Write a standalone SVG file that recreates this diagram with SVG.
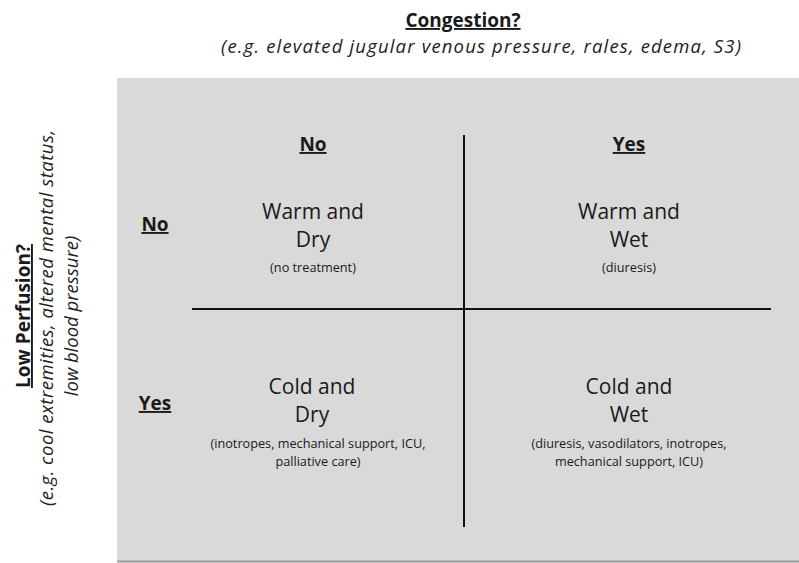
<svg xmlns="http://www.w3.org/2000/svg" width="799" height="563" viewBox="0 0 799 563">
<style>
text{font-family:"Open Sans","Noto Sans","Liberation Sans",sans-serif;fill:#1a1a1a;text-anchor:middle}
.hdr{font-weight:bold;font-size:19px;text-decoration:underline}
.it{font-style:italic;font-size:18.5px;fill:#222}
.big{font-size:21px}
.sm{font-size:12.7px}
.div{stroke:#111;stroke-width:2;fill:none}
</style>
<rect x="0" y="0" width="799" height="563" fill="#ffffff"/>
<g id="panel">
<rect x="117" y="78" width="690" height="484" fill="#d9d9d9"/>
<line x1="117" y1="561.5" x2="799" y2="561.5" stroke="#9a9a9a" stroke-width="2"/>
</g>
<g id="title-congestion">
<text class="hdr" x="463" y="27">Congestion?</text>
<text class="it" x="481" y="53" textLength="520" lengthAdjust="spacing">(e.g. elevated jugular venous pressure, rales, edema, S3)</text>
</g>
<g id="title-perfusion">
<text class="hdr" transform="translate(30,316) rotate(-90)">Low Perfusion?</text>
<text class="it" transform="translate(53,318) rotate(-90)" textLength="376" lengthAdjust="spacing">(e.g. cool extremities, altered mental status,</text>
<text class="it" transform="translate(78,316) rotate(-90)">low blood pressure)</text>
</g>
<g id="col-no"><text class="hdr" x="313" y="151">No</text></g>
<g id="col-yes"><text class="hdr" x="629" y="151">Yes</text></g>
<g id="row-no"><text class="hdr" x="155" y="231">No</text></g>
<g id="row-yes"><text class="hdr" x="155" y="410">Yes</text></g>
<g id="connectors">
<line class="div" x1="464" y1="135" x2="464" y2="527"/>
<line class="div" x1="192" y1="309" x2="771" y2="309"/>
</g>
<g id="warm-dry">
<text class="big" x="313" y="219">Warm and</text>
<text class="big" x="313" y="247">Dry</text>
<text class="sm" x="313" y="272">(no treatment)</text>
</g>
<g id="warm-wet">
<text class="big" x="629" y="219">Warm and</text>
<text class="big" x="629" y="247">Wet</text>
<text class="sm" x="629" y="272">(diuresis)</text>
</g>
<g id="cold-dry">
<text class="big" x="312" y="394">Cold and</text>
<text class="big" x="312" y="422">Dry</text>
<text class="sm" x="318" y="448">(inotropes, mechanical support, ICU,</text>
<text class="sm" x="318" y="466">palliative care)</text>
</g>
<g id="cold-wet">
<text class="big" x="629" y="394">Cold and</text>
<text class="big" x="629" y="422">Wet</text>
<text class="sm" x="629" y="448">(diuresis, vasodilators, inotropes,</text>
<text class="sm" x="629" y="466">mechanical support, ICU)</text>
</g>
</svg>
